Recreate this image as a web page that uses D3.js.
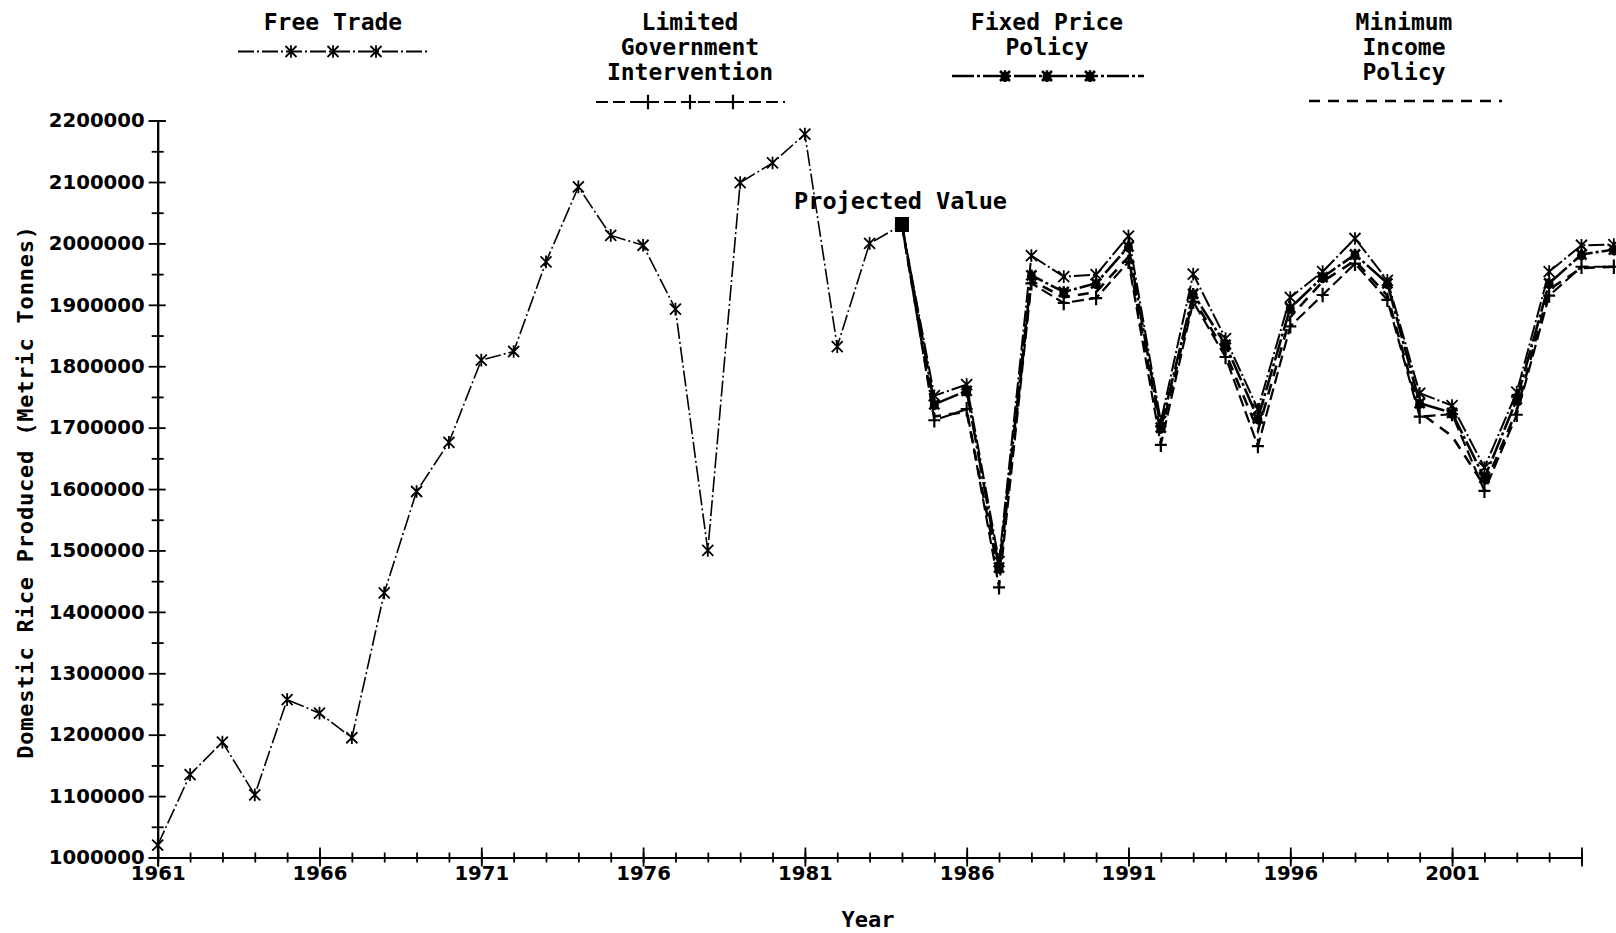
<!DOCTYPE html>
<html>
<head>
<meta charset="utf-8">
<script src="https://cdn.jsdelivr.net/npm/d3@7"></script>
<style>
  body { margin: 0; background: #fff; }
  text { fill: #000; font-family: "DejaVu Sans Mono", monospace; }
</style>
</head>
<body>
<script>
let width = 1616, height = 933;

// historical production, all scenarios share it
let histYears = [1961, 1962, 1963, 1964, 1965, 1966, 1967, 1968, 1969, 1970, 1971, 1972,
    1973, 1974, 1975, 1976, 1977, 1978, 1979, 1980, 1981, 1982, 1983];
let histValues = [1020000, 1135000, 1188000, 1102000, 1257000, 1235000, 1195000, 1431000,
    1596000, 1676000, 1810000, 1824000, 1970000, 2092000, 2013000, 1997000, 1893000,
    1500000, 2099000, 2131000, 2178000, 1832000, 2000000];

let projectedYear = 1984, projectedValue = 2030000;

// scenario projections from 1984
let projYears = [1984, 1985, 1986, 1987, 1988, 1989, 1990, 1991, 1992, 1993, 1994, 1995,
    1996, 1997, 1998, 1999, 2000, 2001, 2002, 2003, 2004, 2005, 2006];
let freeTrade = [2030000, 1752000, 1770000, 1482000, 1980000, 1946000, 1949000, 2012000,
    1710000, 1950000, 1845000, 1730000, 1912000, 1954000, 2008000, 1940000, 1756000,
    1736000, 1635000, 1758000, 1954000, 1997000, 1998000];
let limitedGov = [2030000, 1712000, 1730000, 1440000, 1935000, 1903000, 1911000, 1970000,
    1672000, 1905000, 1815000, 1670000, 1865000, 1916000, 1967000, 1908000, 1718000,
    1722000, 1597000, 1721000, 1915000, 1962000, 1962000];
let fixedPrice = [2030000, 1738000, 1760000, 1472000, 1948000, 1921000, 1935000, 1995000,
    1700000, 1918000, 1835000, 1715000, 1895000, 1945000, 1982000, 1935000, 1740000,
    1724000, 1618000, 1746000, 1935000, 1982000, 1990000];
let minIncome = [2030000, 1718000, 1726000, 1460000, 1940000, 1912000, 1921000, 1978000,
    1690000, 1910000, 1822000, 1695000, 1880000, 1938000, 1972000, 1915000, 1725000,
    1686000, 1605000, 1728000, 1925000, 1960000, 1962000];

let yTicks = [1000000, 1100000, 1200000, 1300000, 1400000, 1500000, 1600000, 1700000,
    1800000, 1900000, 2000000, 2100000, 2200000];
let xLabelYears = [1961, 1966, 1971, 1976, 1981, 1986, 1991, 1996, 2001];
let allTickYears = [];
for (let yr = 1961; yr <= 2005; yr++) allTickYears.push(yr);

let svg = d3.select("body").append("svg")
    .attr("width", width)
    .attr("height", height);

let x = d3.scaleLinear().domain([1961, 2005]).range([157.7, 1581.5]);
let y = d3.scaleLinear().domain([1000000, 2200000]).range([857.5, 120.6]);

// ---- marker shapes ----
function starPath(cx, cy, r) {
    return `M${cx - r},${cy - r}L${cx + r},${cy + r}M${cx - r},${cy + r}L${cx + r},${cy - r}` +
        `M${cx},${cy - r * 1.15}L${cx},${cy + r * 1.15}`;
}
function plusPath(cx, cy, r) {
    return `M${cx - r},${cy}L${cx + r},${cy}M${cx},${cy - r * 1.2}L${cx},${cy + r * 1.2}`;
}

let series = [
    {name: "free", values: freeTrade, dash: "16,3,2,3", width: 2, marker: "star"},
    {name: "lgi", values: limitedGov, dash: "12,5", width: 2.2, marker: "plus"},
    {name: "fixed", values: fixedPrice, dash: "22,3,3,3", width: 2.6, marker: "fixed"},
    {name: "min", values: minIncome, dash: "11,8", width: 2.6, marker: null}
];

function drawMarker(g, kind, cx, cy) {
    if (kind === "star") {
        g.append("path").attr("d", starPath(cx, cy, 5.5))
            .attr("stroke", "#000").attr("stroke-width", 1.8).attr("fill", "none");
    } else if (kind === "plus") {
        g.append("path").attr("d", plusPath(cx, cy, 6))
            .attr("stroke", "#000").attr("stroke-width", 2.2).attr("fill", "none");
    } else if (kind === "fixed") {
        g.append("path").attr("d", starPath(cx, cy, 5))
            .attr("stroke", "#000").attr("stroke-width", 2.6).attr("fill", "none");
        g.append("ellipse").attr("cx", cx).attr("cy", cy + 1).attr("rx", 4.5).attr("ry", 5)
            .attr("fill", "#000");
    }
}

// ---- axes ----
svg.append("g").attr("class", "ylab").attr("transform", `translate(${x(1961)},0)`)
    .call(d3.axisLeft(y).tickValues(yTicks).tickSize(9).tickPadding(4)
        .tickFormat(d3.format("d")));
svg.append("g").attr("transform", `translate(${x(1961)},0)`)
    .call(d3.axisRight(y).tickValues(yTicks).tickSize(8).tickFormat(""));
let minorY = yTicks.slice(0, -1).map(v => v + 50000);
svg.append("g").attr("transform", `translate(${x(1961)},0)`)
    .call(d3.axisLeft(y).tickValues(minorY).tickSize(6).tickFormat(""));
svg.append("g").attr("transform", `translate(${x(1961)},0)`)
    .call(d3.axisRight(y).tickValues(minorY).tickSize(6).tickFormat(""));

svg.append("g").attr("class", "xlab").attr("transform", `translate(0,${y(1000000)})`)
    .call(d3.axisBottom(x).tickValues(xLabelYears).tickSize(9).tickPadding(0)
        .tickFormat(d3.format("d")));
svg.append("g").attr("transform", `translate(0,${y(1000000)})`)
    .call(d3.axisTop(x).tickValues(xLabelYears).tickSize(10).tickFormat(""));
svg.append("g").attr("transform", `translate(0,${y(1000000)})`)
    .call(d3.axisBottom(x).tickValues(allTickYears).tickSize(5).tickFormat(""));
svg.append("g").attr("transform", `translate(0,${y(1000000)})`)
    .call(d3.axisTop(x).tickValues(allTickYears).tickSize(5).tickFormat(""));

svg.selectAll(".domain").attr("stroke", "#000").attr("stroke-width", 1.8);
svg.selectAll(".tick line").attr("stroke", "#000").attr("stroke-width", 1.8);
svg.selectAll(".tick text")
    .style("font-family", "'DejaVu Sans', sans-serif")
    .style("font-size", "19.7px").style("font-weight", "bold")
    .attr("fill", "#000");

// axis titles
svg.append("text")
    .attr("x", 868).attr("y", 927)
    .attr("text-anchor", "middle")
    .style("font-size", "22px").style("font-weight", "bold")
    .text("Year");

svg.append("text")
    .attr("transform", "translate(33,492) rotate(-90)")
    .attr("text-anchor", "middle")
    .style("font-size", "22px").style("font-weight", "bold").style("letter-spacing", "0.8px")
    .text("Domestic Rice Produced (Metric Tonnes)");

// ---- historical line ----
let line = d3.line().x(d => x(d[0])).y(d => y(d[1]));
let histPts = histYears.map((yr, i) => [yr, histValues[i]]);
histPts.push([projectedYear, projectedValue]);

svg.append("path")
    .attr("d", line(histPts))
    .attr("fill", "none")
    .attr("stroke", "#000")
    .attr("stroke-width", 1.6)
    .attr("stroke-dasharray", "16,3,2,3");

let histMarks = svg.append("g");
histYears.forEach((yr, i) => drawMarker(histMarks, "star", x(yr), y(histValues[i])));

// ---- projections ----
series.slice().reverse().forEach(s => {
    let pts = projYears.map((yr, i) => [yr, s.values[i]]);
    svg.append("path")
        .attr("d", line(pts))
        .attr("fill", "none")
        .attr("stroke", "#000")
        .attr("stroke-width", s.width)
        .attr("stroke-dasharray", s.dash);
    if (s.marker) {
        let g = svg.append("g");
        pts.slice(1).forEach(p => drawMarker(g, s.marker, x(p[0]), y(p[1])));
    }
});

// projected value mark
svg.append("rect")
    .attr("x", x(projectedYear) - 7).attr("y", y(projectedValue) - 8)
    .attr("width", 14).attr("height", 15)
    .attr("fill", "#000");
svg.append("text")
    .attr("x", 794).attr("y", 209)
    .style("font-size", "23.6px").style("font-weight", "bold")
    .text("Projected Value");

// ---- legend ----
let legend = [
    {lines: ["Free Trade"], cx: 333, lineY: 51.5, x1: 238, x2: 430, s: series[0]},
    {lines: ["Limited", "Government", "Intervention"], cx: 690, lineY: 102, x1: 596, x2: 785, s: series[1]},
    {lines: ["Fixed Price", "Policy"], cx: 1047, lineY: 76, x1: 952, x2: 1144, s: series[2]},
    {lines: ["Minimum", "Income", "Policy"], cx: 1404, lineY: 101, x1: 1309, x2: 1502, s: series[3]}
];

legend.forEach(l => {
    let g = svg.append("g");
    l.lines.forEach((t, i) => {
        g.append("text")
            .attr("x", l.cx).attr("y", 30 + i * 25)
            .attr("text-anchor", "middle")
            .style("font-size", "23px").style("font-weight", "bold")
            .text(t);
    });
    g.append("line")
        .attr("x1", l.x1).attr("x2", l.x2)
        .attr("y1", l.lineY).attr("y2", l.lineY)
        .attr("stroke", "#000")
        .attr("stroke-width", l.s.width)
        .attr("stroke-dasharray", l.s.dash);
    if (l.s.marker) {
        [-42, 0, 43].forEach(dx => drawMarker(g, l.s.marker, l.cx + dx, l.lineY));
    }
});
</script>
</body>
</html>
